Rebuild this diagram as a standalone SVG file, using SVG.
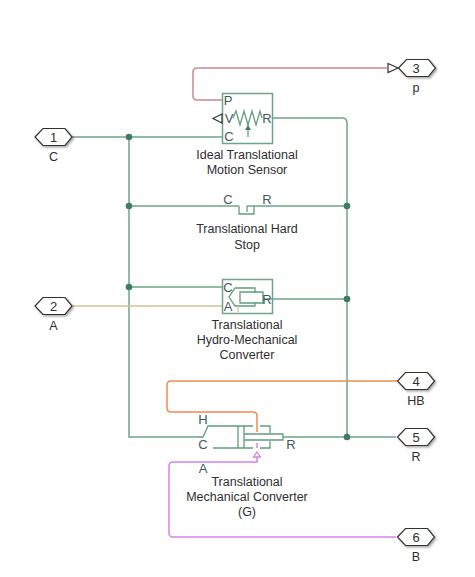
<svg xmlns="http://www.w3.org/2000/svg" width="475" height="577" viewBox="0 0 475 577">
<defs>
<filter id="sh" x="-20%" y="-20%" width="150%" height="150%"><feDropShadow dx="1.500" dy="1.500" stdDeviation="1" flood-color="#000" flood-opacity="0.35"/></filter>
<path id="hex" d="M-18.500 0L-10.500 -8.500H11.500L18.500 0L11.500 8.500H-10.500Z"/>
</defs>
<style>
text{font-family:"Liberation Sans",Arial,sans-serif;font-size:12.500px;fill:#2e2e2e;text-anchor:middle}
.p{fill:#3f5a5c;font-size:13px}
.n{font-size:13px}
.w{fill:none;stroke:#6ea588;stroke-width:1.500}
.s{fill:none;stroke:#5f9e78;stroke-width:1.300}
.hx{fill:#fff;stroke:#333;stroke-width:1.200;filter:url(#sh)}
.d{fill:#3f7d5c}
</style>
<g id="connectors">
<path class="w" d="M72 137H222M129 137V437H197M129 206H239M129 287H222M272 118H342Q347 118 347 123V437M247 206H347M273 299H347M283 437H396"/>
<path fill="none" stroke="#c78a8f" stroke-width="1.500" d="M222 100H197Q193 100 193 96V72Q193 68 197 68H387"/>
<path fill="none" stroke="#cfc399" stroke-width="1.500" d="M72 306H222"/>
<path fill="none" stroke="#ee8a55" stroke-width="1.500" d="M397 381H171Q167 381 167 385V408Q167 412 171 412H253Q257 412 257 416V432"/>
<path fill="none" stroke="#d883e6" stroke-width="1.500" d="M257 443V448M257 457V462H173Q169 462 169 466V533Q169 537 173 537H396"/>
<circle class="d" cx="129" cy="137" r="3.300"/><circle class="d" cx="129" cy="206" r="3.300"/><circle class="d" cx="129" cy="287" r="3.300"/>
<circle class="d" cx="347" cy="206" r="3.300"/><circle class="d" cx="347" cy="299" r="3.300"/><circle class="d" cx="347" cy="437" r="3.300"/>
</g>
<g id="port1"><use href="#hex" class="hx" transform="translate(53.500 137)"/><text class="n" x="53.500" y="141.500">1</text><text x="53.500" y="160.500">C</text></g>
<g id="port2"><use href="#hex" class="hx" transform="translate(53.500 306)"/><text class="n" x="53.500" y="310.500">2</text><text x="53.500" y="329.500">A</text></g>
<g id="port3"><path d="M388 63.500L398 68L388 72.500Z" fill="#fff" stroke="#333" stroke-width="1.200"/><use href="#hex" class="hx" transform="translate(417 68)"/><text class="n" x="416" y="72.500">3</text><text x="416" y="92">p</text></g>
<g id="port4"><use href="#hex" class="hx" transform="translate(416 381)"/><text class="n" x="416" y="385.500">4</text><text x="416" y="405">HB</text></g>
<g id="port5"><use href="#hex" class="hx" transform="translate(416 437)"/><text class="n" x="416" y="441.500">5</text><text x="416" y="461">R</text></g>
<g id="port6"><use href="#hex" class="hx" transform="translate(416 537)"/><text class="n" x="416" y="541.500">6</text><text x="416" y="561">B</text></g>
<g id="motion-sensor">
<rect x="222.500" y="93.500" width="50" height="50" fill="none" stroke="#6ea588" stroke-width="1.500"/>
<path d="M233 118L236 111L240 125L244 111L248 125L252 111L256 125L260 111L262 118" class="s"/>
<path d="M248 137V127" class="s"/><path d="M245 130L248 125L251 130Z" fill="#3f7d5c"/>
<path d="M222 114L213 118.500L222 123Z" fill="#fff" stroke="#333" stroke-width="1.200"/>
<text class="p" x="228" y="105">P</text><text class="p" x="229" y="123">V</text><text class="p" x="267" y="123">R</text><text class="p" x="229" y="141">C</text>
<text x="247" y="159">Ideal Translational</text><text x="247" y="174">Motion Sensor</text>
</g>
<g id="hard-stop">
<path class="s" d="M239 206V214H254V206M247 206V212"/>
<text class="p" x="228" y="204">C</text><text class="p" x="267" y="204">R</text>
<text x="247" y="233">Translational Hard</text><text x="247" y="248.500">Stop</text>
</g>
<g id="hydro-converter">
<rect x="222.500" y="279.500" width="50" height="34" fill="none" stroke="#6ea588" stroke-width="1.500"/>
<path class="s" d="M255 293V288H235L229 297L235 306H255V303M240 292H263V303H240Z"/>
<path d="M238 306V312" stroke="#cfc399" stroke-width="1.300"/>
<path class="w" d="M263 299H273"/>
<text class="p" x="228" y="291.500">C</text><text class="p" x="228" y="311">A</text><text class="p" x="267" y="304">R</text>
<text x="247" y="329">Translational</text><text x="247" y="344">Hydro-Mechanical</text><text x="247" y="359">Converter</text>
</g>
<g id="mechanical-converter">
<path class="s" d="M197 437H203L208 426H253M260 426H270V433M213 448H253M260 448H270V441M238 426V448M244 426V448M244 434H283V440H244"/>
<path d="M257 452L260.500 457H253.500Z" fill="#fff" stroke="#d883e6" stroke-width="1.300"/>
<text class="p" x="203" y="423.500">H</text><text class="p" x="203" y="449">C</text><text class="p" x="291" y="449">R</text><text class="p" x="203" y="473">A</text>
<text x="247" y="486">Translational</text><text x="247" y="501">Mechanical Converter</text><text x="247" y="516">(G)</text>
</g>
</svg>
